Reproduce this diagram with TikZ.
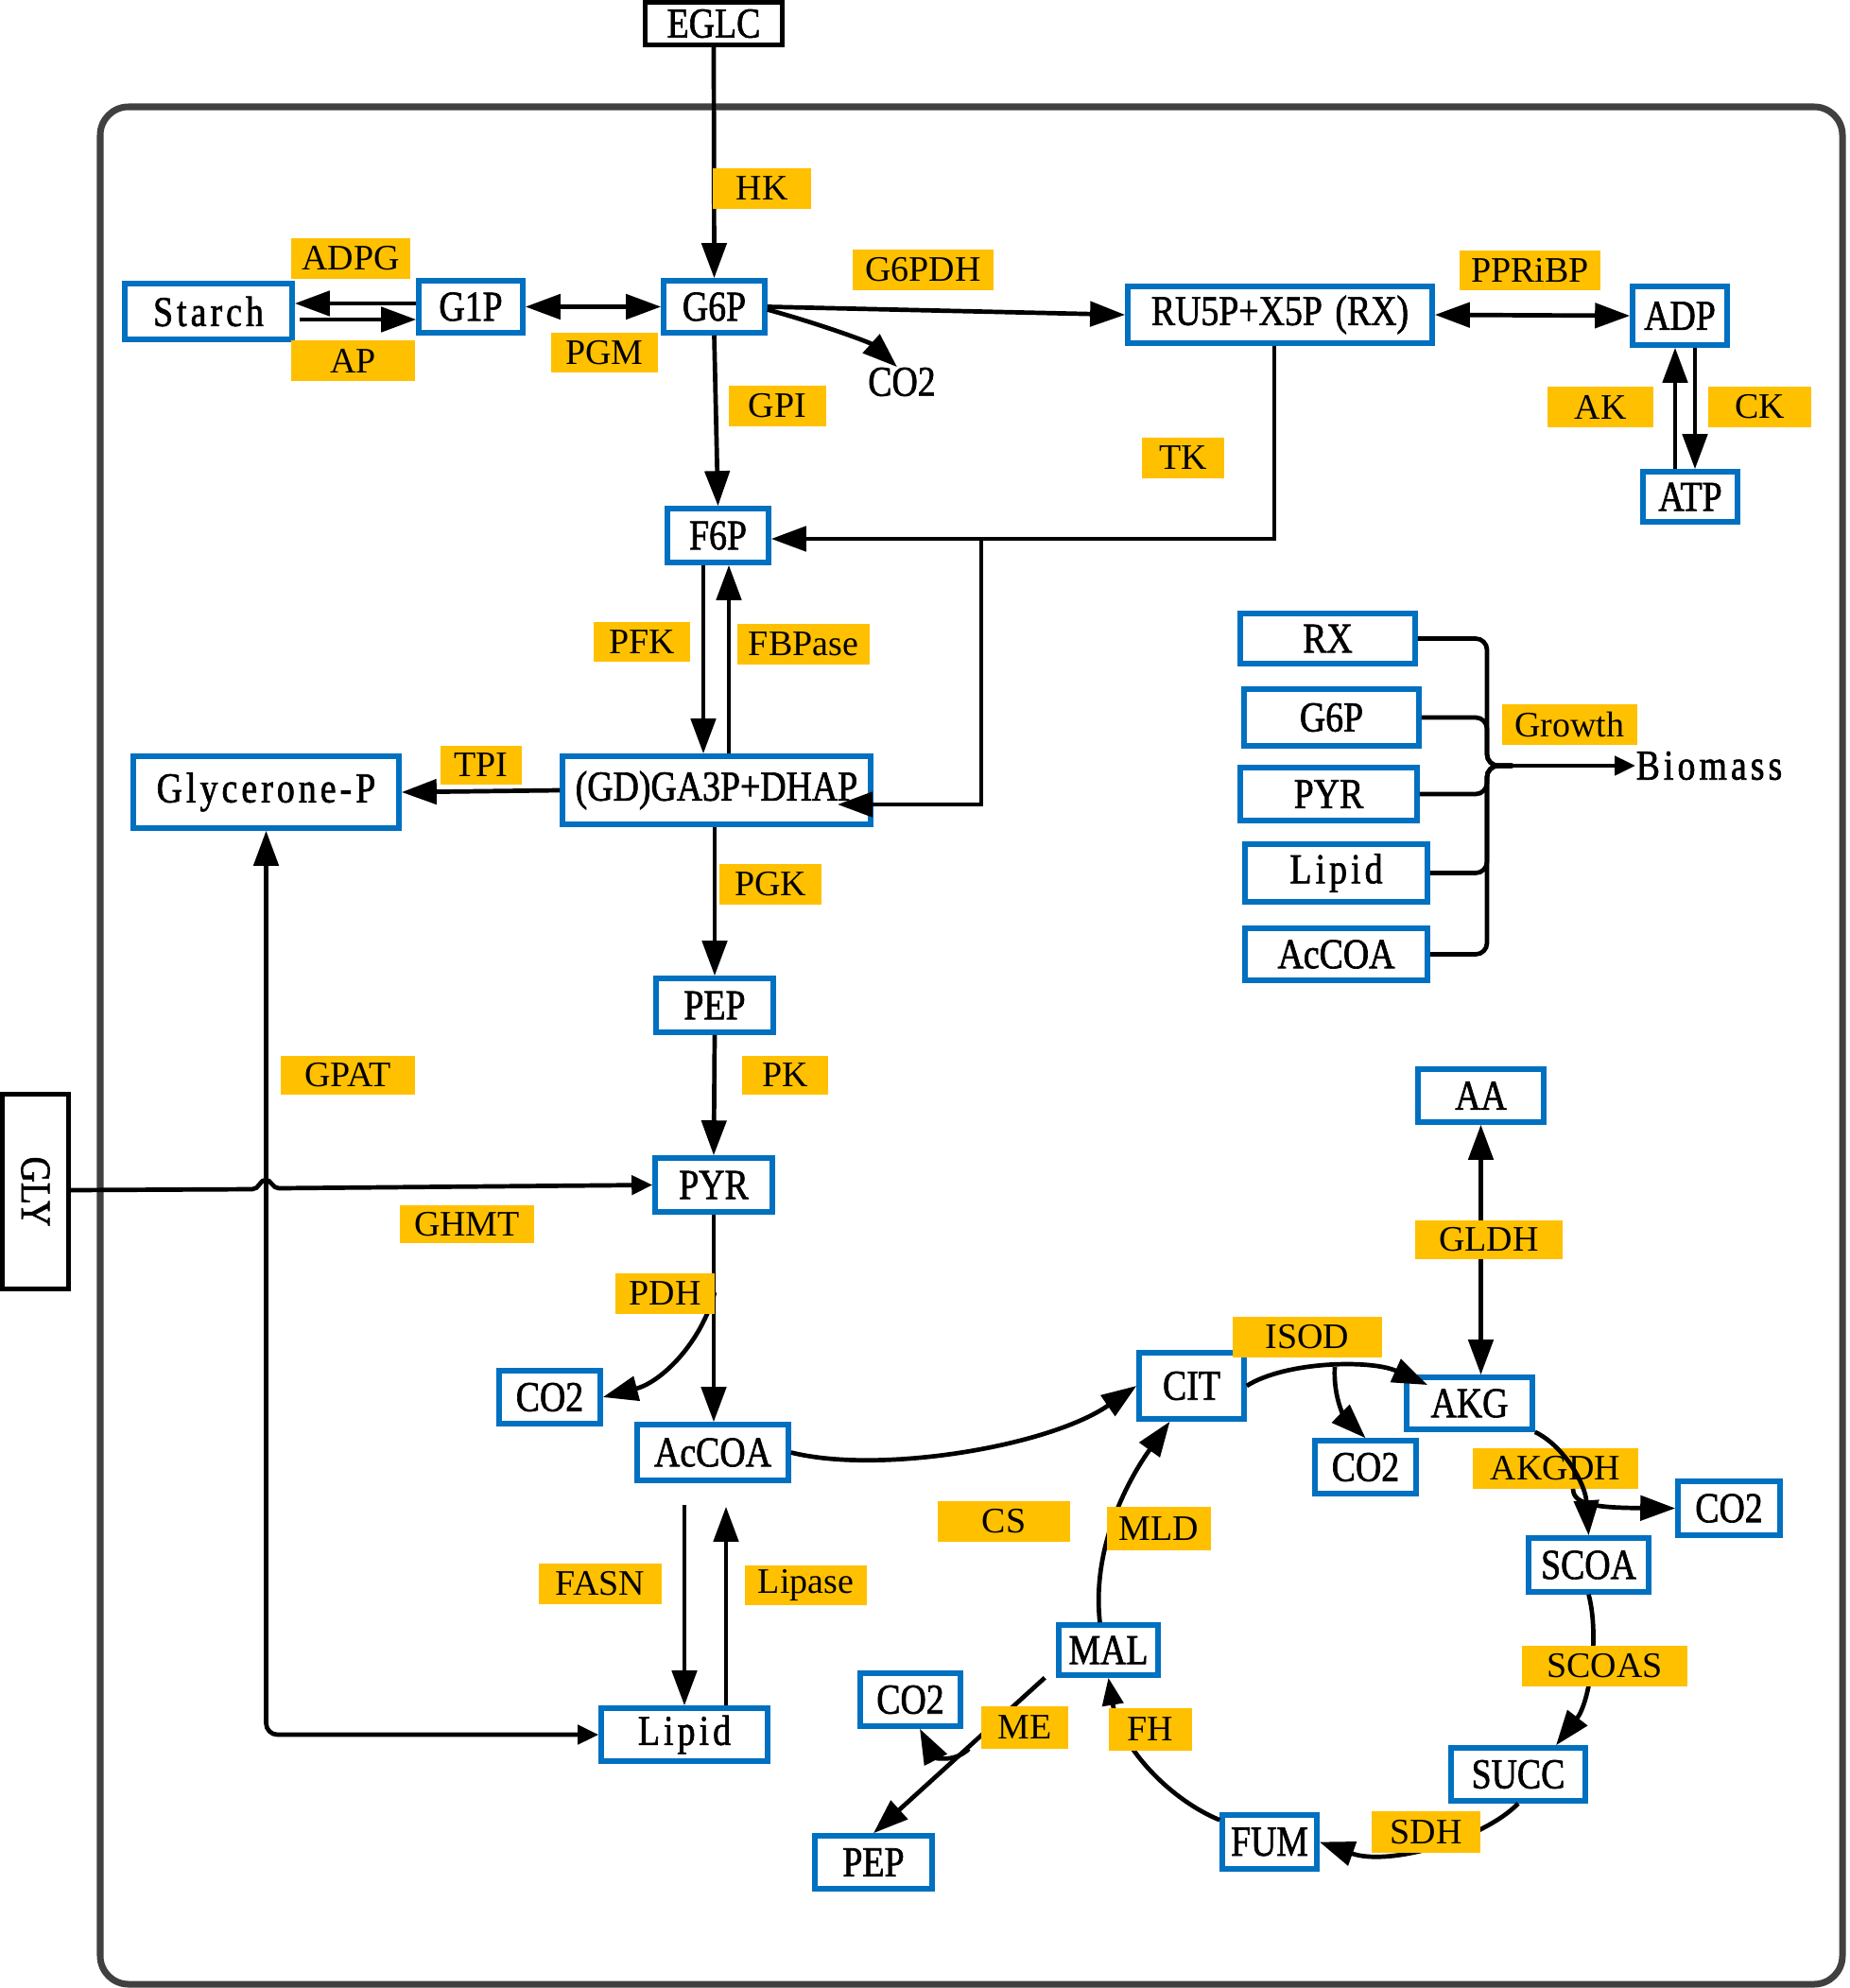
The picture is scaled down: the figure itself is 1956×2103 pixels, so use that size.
\documentclass[tikz,border=0pt]{standalone}
\usepackage{fontspec}
\setmainfont{Liberation Serif}
\newfontfamily\nodefnt[FakeStretch=0.84,FakeBold=1.4]{Liberation Serif}
\newfontfamily\widefnt[FakeStretch=0.84,FakeBold=1.4,LetterSpace=9]{Liberation Serif}
\usetikzlibrary{arrows.meta}
\definecolor{boxblue}{HTML}{0070C0}
\definecolor{enzorange}{HTML}{FFC000}
\definecolor{framegray}{HTML}{404040}
\tikzset{
  BigT/.tip={Triangle[length=0.37cm,width=0.26cm]},
  MdT/.tip={Triangle[length=0.29cm,width=0.22cm]},
  SmT/.tip={Triangle[length=0.22cm,width=0.2cm]},
}
\begin{document}
\begin{tikzpicture}[x=0.01cm,y=-0.01cm,
  mbox/.style={draw=boxblue,line width=0.055cm,fill=white,inner sep=0pt,font=\nodefnt\fontsize{12.8}{14}\selectfont},
  kbox/.style={draw=black,line width=0.05cm,fill=white,inner sep=0pt,font=\nodefnt\fontsize{12.8}{14}\selectfont},
  ptxt/.style={inner sep=0pt,font=\nodefnt\fontsize{12.8}{14}\selectfont},
  enz/.style={fill=enzorange,inner sep=0pt,font=\fontsize{10.8}{12}\selectfont},
  conn/.style={line width=0.047cm,draw=black},
  outerframe/.style={draw=framegray,line width=0.07cm,rounded corners=0.3cm}
]
\useasboundingbox (0,0) rectangle (1956,2103);
\draw[outerframe] (106,113) rectangle (1949,2099);

% ---------- boxes ----------
\node[kbox,minimum width=1.45cm,minimum height=0.45cm] (eglc) at (755,25) {EGLC};
\node[kbox,minimum width=2.05cm,minimum height=0.69cm,rotate=-90] (gly) at (37.5,1260.5) {GLY};

\node[mbox,minimum width=1.77cm,minimum height=0.59cm] (starch) at (220.5,329.5) {\widefnt Starch};
\node[mbox,minimum width=1.10cm,minimum height=0.55cm] (g1p) at (498,324.5) {G1P};
\node[mbox,minimum width=1.07cm,minimum height=0.55cm] (g6p) at (755.5,324.5) {G6P};
\node[mbox,minimum width=1.07cm,minimum height=0.57cm] (f6p) at (759.5,566.5) {F6P};
\node[mbox,minimum width=3.22cm,minimum height=0.60cm] (rx) at (1354,333) {RU5P+X5P\hspace{0.3em}(RX)};
\node[mbox,minimum width=1.00cm,minimum height=0.62cm] (adp) at (1777,334) {ADP};
\node[mbox,minimum width=1.00cm,minimum height=0.53cm] (atp) at (1788,525.5) {ATP};
\node[mbox,minimum width=2.81cm,minimum height=0.76cm] (glyc) at (281.5,838) {\widefnt Glycerone-P};
\node[mbox,minimum width=3.26cm,minimum height=0.72cm] (ga3p) at (758,836) {(GD)GA3P+DHAP};
\node[mbox,minimum width=1.24cm,minimum height=0.57cm] (pep) at (756,1063.5) {PEP};
\node[mbox,minimum width=1.24cm,minimum height=0.57cm] (pyr) at (755,1253.5) {PYR};
\node[mbox,minimum width=1.07cm,minimum height=0.56cm] (co2a) at (581.5,1478) {CO2};
\node[mbox,minimum width=1.60cm,minimum height=0.59cm] (accoa) at (754,1536.5) {AcCOA};
\node[mbox,minimum width=1.76cm,minimum height=0.56cm] (lipid) at (724,1835) {\widefnt Lipid};

\node[mbox,minimum width=1.85cm,minimum height=0.53cm] (rx2) at (1404.5,675.5) {RX};
\node[mbox,minimum width=1.85cm,minimum height=0.60cm] (g6p2) at (1408.5,759) {G6P};
\node[mbox,minimum width=1.87cm,minimum height=0.56cm] (pyr2) at (1405.5,840) {PYR};
\node[mbox,minimum width=1.93cm,minimum height=0.61cm] (lip2) at (1413.5,923.5) {\widefnt Lipid};
\node[mbox,minimum width=1.93cm,minimum height=0.55cm] (acc2) at (1413.5,1009.5) {AcCOA};
\node[ptxt,anchor=west] (bio) at (1730,810) {\widefnt Biomass};

\node[mbox,minimum width=1.33cm,minimum height=0.56cm] (aa) at (1566.5,1159) {AA};
\node[mbox,minimum width=1.11cm,minimum height=0.70cm] (cit) at (1260.5,1466) {CIT};
\node[mbox,minimum width=1.33cm,minimum height=0.55cm] (akg) at (1554.5,1484.5) {AKG};
\node[mbox,minimum width=1.07cm,minimum height=0.56cm] (co2b) at (1444.5,1552) {CO2};
\node[mbox,minimum width=1.08cm,minimum height=0.57cm] (co2c) at (1829,1595.5) {CO2};
\node[mbox,minimum width=1.27cm,minimum height=0.57cm] (scoa) at (1680.5,1655.5) {SCOA};
\node[mbox,minimum width=1.42cm,minimum height=0.56cm] (succ) at (1606,1877) {SUCC};
\node[mbox,minimum width=1.00cm,minimum height=0.57cm] (fum) at (1343,1948.5) {FUM};
\node[mbox,minimum width=1.05cm,minimum height=0.53cm] (mal) at (1172.5,1745.5) {MAL};
\node[mbox,minimum width=1.06cm,minimum height=0.56cm] (co2d) at (963,1798) {CO2};
\node[mbox,minimum width=1.24cm,minimum height=0.56cm] (pep2) at (924,1970) {PEP};

\node[ptxt] (co2t) at (954,404) {CO2};

% label drawn beneath its crossing curve
\node[enz,minimum width=1.75cm,minimum height=0.43cm] (akgdh) at (1645.5,1553.5) {AKGDH};

% ---------- connectors ----------
\draw[conn,-BigT] (eglc.south) -- (g6p.north);
\draw[conn,-BigT] (g1p.west |- 0,321) -- (starch.east |- 0,321);
\draw[conn,-BigT,shorten <=0.05cm] (starch.east |- 0,338) -- (g1p.west |- 0,338);
\draw[conn,BigT-BigT] (g1p.east) -- (g6p.west);
\draw[conn,-BigT] (g6p.east) -- (rx.west);
\draw[conn,-BigT] ([yshift=-0.03cm]g6p.east) .. controls (865,342) and (920,362) .. ([xshift=-0.05cm]co2t.north);
\draw[conn,-BigT] (g6p.south) -- (f6p.north);
\draw[conn,BigT-BigT] (rx.east) -- (adp.west);
\draw[conn,-BigT] (atp.north -| 1772,0) -- (adp.south -| 1772,0);
\draw[conn,-BigT] (adp.south -| 1793,0) -- (atp.north -| 1793,0);

\coordinate (tkj) at (1038,570);
\coordinate (ga3pin) at (886,851);
\draw[conn,-BigT] (rx.south -| 1348,0) |- (f6p.east |- 0,570);
\draw[conn,-BigT] (tkj) |- (ga3pin);

\draw[conn,-BigT] (f6p.south -| 744,0) -- (ga3p.north -| 744,0);
\draw[conn,-BigT] (ga3p.north -| 771,0) -- (f6p.south -| 771,0);
\draw[conn,-BigT] (ga3p.west) -- (glyc.east);
\draw[conn,-BigT] (pep.north |- ga3p.south) -- (pep.north);
\draw[conn,-BigT] (pep.south) -- (pyr.north);

\draw[conn,-SmT] (gly.north |- 0,1259) -- (267,1258)
   .. controls (274,1258) and (275,1248) .. (281,1248)
   .. controls (287,1248) and (288,1257) .. (295,1257) -- (pyr.west);
\draw[conn,SmT-BigT,rounded corners=0.12cm] (lipid.west) -| (glyc.south);

\draw[conn,-BigT] (pyr.south) -- (pyr.south |- accoa.north);
\coordinate (pdhc) at (756,1367);
\draw[conn,-BigT] (pdhc) .. controls (742,1420) and (700,1462) .. (co2a.east);

\draw[conn,-BigT,shorten <=0.23cm] (accoa.south -| 724,0) -- (lipid.north -| 724,0);
\draw[conn,-BigT,shorten >=0.25cm] (lipid.north -| 768,0) -- (accoa.south -| 768,0);

\foreach \b in {rx2,g6p2,pyr2,lip2,acc2}
  \draw[conn,rounded corners=0.12cm] (\b.east) -| (1573,810) -- (1600,810);
\draw[conn,-SmT] (1590,810) -- (bio.west);

\draw[conn,BigT-BigT] (aa.south) -- (aa.south |- akg.north);

\draw[conn,-BigT] (accoa.east) .. controls (931,1560) and (1110,1530) .. (cit.west);
\coordinate (akgin) at (1510,1465);
\draw[conn,-BigT] (cit.east) .. controls (1360,1440) and (1450,1438) .. (akgin);
\coordinate (isodc) at (1412,1446);
\draw[conn,-BigT] (isodc) .. controls (1410,1482) and (1425,1502) .. (co2b.north);
\draw[conn,-BigT] (akg.south east) .. controls (1655,1530) and (1677,1570) .. (scoa.north);
\coordinate (akgdhc) at (1664,1575);
\draw[conn,-BigT] (akgdhc) .. controls (1664,1592) and (1690,1595) .. (co2c.west);
\draw[conn,-BigT] (scoa.south) .. controls (1692,1730) and (1682,1800) .. ([xshift=0.4cm]succ.north);
\draw[conn,-BigT] (succ.south) .. controls (1570,1945) and (1470,1975) .. (fum.east);
\draw[conn,-MdT] ([yshift=-0.08cm]fum.north west) .. controls (1240,1905) and (1185,1850) .. (mal.south);
\draw[conn,-BigT] ([xshift=-0.09cm]mal.north) .. controls (1155,1640) and (1190,1570) .. ([xshift=-0.23cm]cit.south);
\draw[conn,-BigT] ([xshift=-0.12cm]mal.south west) -- (pep2.north);
\coordinate (mec) at (1025,1850);
\draw[conn,-BigT] (mec) .. controls (1008,1866) and (988,1858) .. ([xshift=0.1cm]co2d.south);

% ---------- enzyme labels ----------
\node[enz,minimum width=1.04cm,minimum height=0.43cm] (hk) at (806,199.5) {HK};
\node[enz,minimum width=1.26cm,minimum height=0.43cm] (adpg) at (371,273.5) {ADPG};
\node[enz,minimum width=1.31cm,minimum height=0.43cm] (ap) at (373.5,381.5) {AP};
\node[enz,minimum width=1.13cm,minimum height=0.42cm] (pgm) at (639.5,373) {PGM};
\node[enz,minimum width=1.03cm,minimum height=0.43cm] (gpi) at (822.5,429.5) {GPI};
\node[enz,minimum width=1.49cm,minimum height=0.43cm] (g6pdh) at (976.5,285.5) {G6PDH};
\node[enz,minimum width=1.49cm,minimum height=0.42cm] (ppribp) at (1618.5,286) {PPRiBP};
\node[enz,minimum width=1.12cm,minimum height=0.43cm] (ak) at (1693,430.5) {AK};
\node[enz,minimum width=1.09cm,minimum height=0.43cm] (ck) at (1861.5,430.5) {CK};
\node[enz,minimum width=0.87cm,minimum height=0.43cm] (tk) at (1251.5,484.5) {TK};
\node[enz,minimum width=1.02cm,minimum height=0.42cm] (pfk) at (679,679) {PFK};
\node[enz,minimum width=1.40cm,minimum height=0.43cm] (fbpase) at (850,681.5) {FBPase};
\node[enz,minimum width=0.86cm,minimum height=0.41cm] (tpi) at (509,809.5) {TPI};
\node[enz,minimum width=1.08cm,minimum height=0.43cm] (pgk) at (815,935.5) {PGK};
\node[enz,minimum width=1.43cm,minimum height=0.43cm] (growth) at (1660.5,766.5) {Growth};
\node[enz,minimum width=1.42cm,minimum height=0.41cm] (gpat) at (368,1137.5) {GPAT};
\node[enz,minimum width=0.91cm,minimum height=0.41cm] (pk) at (830.5,1137.5) {PK};
\node[enz,minimum width=1.42cm,minimum height=0.40cm] (ghmt) at (494,1295) {GHMT};
\node[enz,minimum width=1.05cm,minimum height=0.43cm] (pdh) at (703.5,1368.5) {PDH};
\node[enz,minimum width=1.56cm,minimum height=0.41cm] (gldh) at (1575,1311.5) {GLDH};
\node[enz,minimum width=1.58cm,minimum height=0.43cm] (isod) at (1383,1414.5) {ISOD};
\node[enz,minimum width=1.40cm,minimum height=0.43cm] (cs) at (1062,1609.5) {CS};
\node[enz,minimum width=1.10cm,minimum height=0.46cm] (mld) at (1226,1617) {MLD};
\node[enz,minimum width=1.30cm,minimum height=0.43cm] (fasn) at (635,1675.5) {FASN};
\node[enz,minimum width=1.29cm,minimum height=0.42cm] (lipase) at (852.5,1677) {Lipase};
\node[enz,minimum width=1.75cm,minimum height=0.43cm] (scoas) at (1697.5,1762.5) {SCOAS};
\node[enz,minimum width=0.92cm,minimum height=0.45cm] (me) at (1084,1827.5) {ME};
\node[enz,minimum width=0.88cm,minimum height=0.45cm] (fh) at (1217,1829.5) {FH};
\node[enz,minimum width=1.15cm,minimum height=0.44cm] (sdh) at (1508.5,1938) {SDH};
\end{tikzpicture}
\end{document}
